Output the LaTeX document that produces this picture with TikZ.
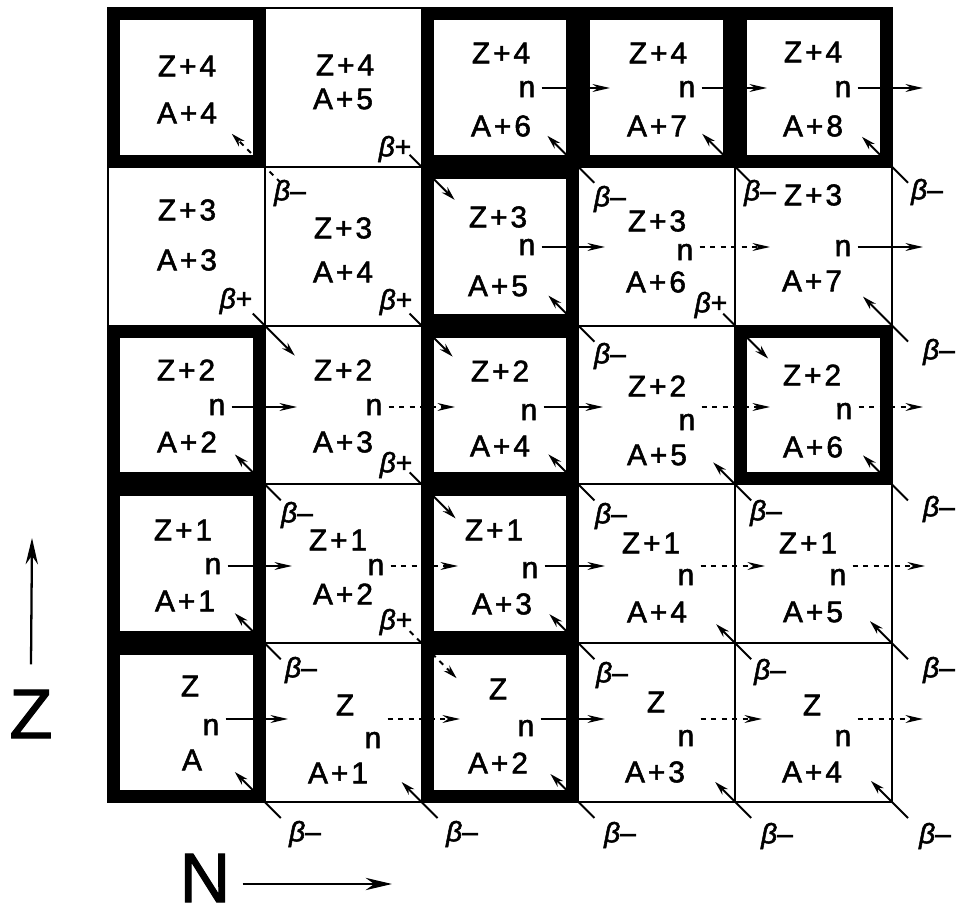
\documentclass[tikz,border=0pt]{standalone}
\usepackage{fontspec}
\setmainfont{Liberation Sans}
\newfontfamily\cellfont[LetterSpace=10, FakeBold=1.8]{Liberation Sans}
\newfontfamily\axisfont[FakeBold=1.5]{Liberation Sans}
\usetikzlibrary{arrows.meta}
\newcommand{\betam}{{\itshape β}–}
\newcommand{\betap}{{\itshape β}+}

\begin{document}
\begin{tikzpicture}[x=0.02cm, y=-0.02cm, >=Stealth,
		grid/.style={line width=1.1pt, line cap=rect},
		stable/.style={draw, line width=0.24cm, minimum width=2.896cm, minimum height=2.936cm, inner sep=0pt, outer sep=0pt},
		lbl/.style={font=\cellfont\fontsize{17}{20}\selectfont},
		blbl/.style={font=\cellfont\fontsize{16}{19}\selectfont, inner sep=1pt},
		nflow/.style={->, line width=1.1pt, >={Stealth[length=10pt, width=4.5pt]}, dash pattern=on 4.5pt off 3pt},
		decay/.style={->, line width=1.1pt, >={Stealth[length=8pt, width=4.5pt]}},
		axislabel/.style={font=\axisfont\fontsize{40}{45}\selectfont, inner sep=0pt},
		axis/.style={->, line width=1.3pt, >={Stealth[length=15pt, width=7pt]}}]
		
		\useasboundingbox (0,0) rectangle (961,915);
		
		\foreach \i in {0,...,5} \draw[grid] ({108+156.8*\i},8) -- ({108+156.8*\i},802);
		\foreach \j in {0,...,5} \draw[grid] (108,{8+158.8*\j}) -- (892,{8+158.8*\j});
		\foreach \i in {0,...,5} \foreach \j in {0,...,5} \coordinate (k\i\j) at ({108+156.8*\i},{802-158.8*\j});
		
		\foreach \c/\r in {0/4, 2/4, 3/4, 4/4, 2/3, 0/2, 2/2, 4/2, 0/1, 2/1, 0/0, 2/0}
		\node[stable] (s\c\r) at ({186.4+156.8*\c},{722.6-158.8*\r}) {};
		
		\node[lbl] (z04) at (187,66) {Z+4};
		\node[lbl] (a04) at (187,113) {A+4};
		\node[lbl] (z14) at (345,65) {Z+4};
		\node[lbl] (a14) at (343,99) {A+5};
		\node[lbl] (z24) at (501,53) {Z+4};
		\node[lbl] (n24) at (527,89) {n};
		\node[lbl] (a24) at (501,126) {A+6};
		\node[lbl] (z34) at (658,53) {Z+4};
		\node[lbl] (n34) at (687,89) {n};
		\node[lbl] (a34) at (657,126) {A+7};
		\node[lbl] (z44) at (813,52) {Z+4};
		\node[lbl] (n44) at (843,89) {n};
		\node[lbl] (a44) at (813,126) {A+8};
		
		\node[lbl] (z03) at (187,210) {Z+3};
		\node[lbl] (a03) at (187,260) {A+3};
		\node[lbl] (z13) at (343,228) {Z+3};
		\node[lbl] (a13) at (343,272) {A+4};
		\node[lbl] (z23) at (498,217) {Z+3};
		\node[lbl] (n23) at (527,247) {n};
		\node[lbl] (a23) at (498,286) {A+5};
		\node[lbl] (z33) at (657,221) {Z+3};
		\node[lbl] (n33) at (685,252) {n};
		\node[lbl] (a33) at (656,282) {A+6};
		\node[lbl] (z43) at (813,195) {Z+3};
		\node[lbl] (n43) at (843,248) {n};
		\node[lbl] (a43) at (812,281) {A+7};
		
		\node[lbl] (z02) at (186,370) {Z+2};
		\node[lbl] (n02) at (217,407) {n};
		\node[lbl] (a02) at (187,442) {A+2};
		\node[lbl] (z12) at (343,370) {Z+2};
		\node[lbl] (n12) at (374,407) {n};
		\node[lbl] (a12) at (343,442) {A+3};
		\node[lbl] (z22) at (500,371) {Z+2};
		\node[lbl] (n22) at (529,412) {n};
		\node[lbl] (a22) at (500,446) {A+4};
		\node[lbl] (z32) at (657,386) {Z+2};
		\node[lbl] (n32) at (687,422) {n};
		\node[lbl] (a32) at (657,455) {A+5};
		\node[lbl] (z42) at (812,375) {Z+2};
		\node[lbl] (n42) at (844,411) {n};
		\node[lbl] (a42) at (813,447) {A+6};
		
		\node[lbl] (z01) at (183,530) {Z+1};
		\node[lbl] (n01) at (213,566) {n};
		\node[lbl] (a01) at (185,601) {A+1};
		\node[lbl] (z11) at (338,540) {Z+1};
		\node[lbl] (n11) at (376,567) {n};
		\node[lbl] (a11) at (343,594) {A+2};
		\node[lbl] (z21) at (494,530) {Z+1};
		\node[lbl] (n21) at (530,570) {n};
		\node[lbl] (a21) at (502,604) {A+3};
		\node[lbl] (z31) at (651,543) {Z+1};
		\node[lbl] (n31) at (686,577) {n};
		\node[lbl] (a31) at (657,612) {A+4};
		\node[lbl] (z41) at (808,543) {Z+1};
		\node[lbl] (n41) at (838,577) {n};
		\node[lbl] (a41) at (813,612) {A+5};
		
		\node[lbl] (z00) at (190,686) {Z};
		\node[lbl] (n00) at (211,727) {n};
		\node[lbl] (a00) at (192,760) {A};
		\node[lbl] (z10) at (345,705) {Z};
		\node[lbl] (n10) at (373,740) {n};
		\node[lbl] (a10) at (338,773) {A+1};
		\node[lbl] (z20) at (498,689) {Z};
		\node[lbl] (n20) at (526,728) {n};
		\node[lbl] (a20) at (498,763) {A+2};
		\node[lbl] (z30) at (656,702) {Z};
		\node[lbl] (n30) at (686,738) {n};
		\node[lbl] (a30) at (655,772) {A+3};
		\node[lbl] (z40) at (812,705) {Z};
		\node[lbl] (n40) at (843,738) {n};
		\node[lbl] (a40) at (812,772) {A+4};
		
		\foreach \c/\r/\tx/\ty/\sty in {2/4/610/88/solid, 3/4/767/88/solid, 4/4/923/88/solid,
			2/3/605/247/solid, 3/3/770/247/dashed, 4/3/923/247/solid,
			0/2/297/407/solid, 1/2/455/407/dashed, 2/2/603/407/solid, 3/2/770/407/dashed, 4/2/923/407/dashed,
			0/1/292/566/solid, 1/1/458/566/dashed, 2/1/605/566/solid, 3/1/765/566/dashed, 4/1/925/566/dashed,
			0/0/288/719/solid, 1/0/460/719/dashed, 2/0/605/719/solid, 3/0/762/719/dashed, 4/0/923/719/dashed}
		{
			\coordinate (t\c\r) at (\tx,\ty);
			\draw[nflow, \sty] (n\c\r.east |- t\c\r) -- (t\c\r);
		}
		
		\foreach \i/\j/\x/\y/\d/\sty in {1/0/305/834/30/solid, 2/0/462/834/20/solid, 3/0/620/835/28/solid, 4/0/777/836/20/solid, 5/0/935/836/21/solid,
			5/1/939/670/22/solid, 5/2/939/509/29/solid, 5/3/939/352/29/solid, 5/4/927/192/30/solid,
			1/1/301/670/30/solid, 1/2/297/515/30/solid, 1/4/290/193/33/dashed,
			3/1/612/675/29/solid, 3/2/611/516/30/solid, 3/3/610/356/30/solid, 3/4/610/199/31/solid,
			4/1/770/672/19/solid, 4/2/766/513/22/solid, 4/4/760/193/33/solid}
		{
			\node[blbl] (bm\i\j) at (\x,\y) {\betam};
			\draw[decay, \sty] ([shift={(16,16)}]k\i\j) -- ([shift={(-\d,-\d)}]k\i\j);
		}
		
		\foreach \i/\j/\x/\y/\d/\sty in {1/3/236/301/30/solid, 2/4/395/149/33/solid, 2/3/396/302/31/solid,
			2/2/396/465/34/solid, 2/1/396/622/35/dashed, 4/3/711/305/33/solid}
		{
			\node[blbl] (bp\i\j) at (\x,\y) {\betap};
			\draw[decay, \sty] ([shift={(-12,-12)}]k\i\j) -- ([shift={(\d,\d)}]k\i\j);
		}
		
		\node[axislabel] (zaxis) at (31,714) {Z};
		\coordinate (ztip) at (32,538);
		\draw[axis] ([yshift=0.5cm]zaxis.north) -- (ztip);
		\node[axislabel] (naxis) at (205,878) {N};
		\coordinate (ntip) at (392,884);
		\draw[axis] ([xshift=0.24cm]naxis.east |- ntip) -- (ntip);
	\end{tikzpicture}
\end{document}
